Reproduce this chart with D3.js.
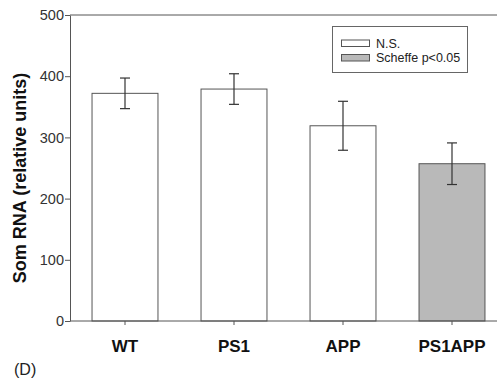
<!DOCTYPE html>
<html>
<head>
<meta charset="utf-8">
<script src="https://cdn.jsdelivr.net/npm/d3@7"></script>
<style>
  body { margin: 0; background: #fff; }
  svg { display: block; font-family: "Liberation Sans", Arial, sans-serif; }
</style>
</head>
<body>
<div id="graph"></div>
<script>
// values
let categories = ['WT', 'PS1', 'APP', 'PS1APP'];
let means = [372, 379, 319, 257];
let errors = [25, 25, 40, 34];
let significant = [false, false, false, true];
let yTicks = [0, 100, 200, 300, 400, 500];
let legendLabels = ['N.S.', 'Scheffe p<0.05'];

let width = 497;
let height = 385;
let fillNS = '#ffffff';
let fillSig = '#b9b9b9';
let lineCol = '#555';
let fontFam = '"Liberation Sans", Arial, sans-serif';

let data = categories.map((c, i) => {
    return {name: c, mean: means[i], err: errors[i], sig: significant[i]};
});

let x = d3.scaleBand()
    .domain(categories)
    .range([70.5, 506.5])
    .paddingInner(0.395)
    .paddingOuter(0.1975);
let y = d3.scaleLinear().domain([0, 500]).range([321, 15]);

let svg = d3.select('#graph')
    .append('svg')
        .attr('width', width)
        .attr('height', height);

// bars
svg.selectAll('.bar')
        .data(data)
    .enter().append('rect')
        .attr('class', 'bar')
        .attr('x', (d) => x(d.name))
        .attr('width', x.bandwidth())
        .attr('y', (d) => y(d.mean))
        .attr('height', (d) => y(0) - y(d.mean))
        .attr('fill', (d) => d.sig ? fillSig : fillNS)
        .attr('stroke', lineCol)
        .attr('stroke-width', 1);

// error bars
let eb = svg.selectAll('.err')
        .data(data)
    .enter().append('g')
        .attr('class', 'err')
        .attr('stroke', '#333')
        .attr('stroke-width', 1.2);
eb.append('line')
    .attr('x1', (d) => x(d.name) + x.bandwidth() / 2)
    .attr('x2', (d) => x(d.name) + x.bandwidth() / 2)
    .attr('y1', (d) => y(d.mean + d.err))
    .attr('y2', (d) => y(d.mean - d.err));
eb.selectAll('.cap')
        .data((d) => [d.mean + d.err, d.mean - d.err].map((v) => ({v: v, name: d.name})))
    .enter().append('line')
        .attr('x1', (d) => x(d.name) + x.bandwidth() / 2 - 5)
        .attr('x2', (d) => x(d.name) + x.bandwidth() / 2 + 5)
        .attr('y1', (d) => y(d.v))
        .attr('y2', (d) => y(d.v));

// top frame line
svg.append('line')
    .attr('x1', 70).attr('x2', width)
    .attr('y1', y(500)).attr('y2', y(500))
    .attr('stroke', lineCol);

// x axis
let xAxis = svg.append('g')
    .attr('transform', 'translate(0,' + y(0) + ')')
    .call(d3.axisBottom(x).tickSize(4).tickPadding(15));
xAxis.select('.domain').attr('d', 'M70,0H' + width).attr('stroke', lineCol);
xAxis.selectAll('.tick line').attr('stroke', lineCol);
xAxis.selectAll('text')
    .attr('font-size', 17)
    .attr('font-weight', 'bold')
    .attr('font-family', fontFam)
    .attr('fill', '#111');

// y axis
let yAxis = svg.append('g')
    .attr('transform', 'translate(70,0)')
    .call(d3.axisLeft(y).tickValues(yTicks).tickSize(5).tickPadding(1).tickSizeOuter(0));
yAxis.select('.domain').attr('stroke', lineCol);
yAxis.selectAll('.tick line').attr('stroke', lineCol);
yAxis.selectAll('text')
    .attr('font-size', 14.5)
    .attr('font-family', fontFam)
    .attr('fill', '#333');

// y title
svg.append('text')
    .attr('transform', 'translate(26,178) rotate(-90)')
    .attr('text-anchor', 'middle')
    .attr('font-size', 18)
    .attr('font-weight', 'bold')
    .attr('font-family', fontFam)
    .attr('fill', '#111')
    .text('Som RNA (relative units)');

// legend
let legend = svg.append('g');
legend.append('rect')
    .attr('x', 332.5).attr('y', 26.5)
    .attr('width', 135).attr('height', 46)
    .attr('fill', '#fff')
    .attr('stroke', '#666');
legendLabels.forEach((lab, i) => {
    let ly = 40 + i * 14.5;
    legend.append('rect')
        .attr('x', 341.5).attr('y', ly)
        .attr('width', 28).attr('height', 6.5)
        .attr('fill', i === 0 ? fillNS : fillSig)
        .attr('stroke', lineCol);
    legend.append('text')
        .attr('x', 376).attr('y', ly + 7.5)
        .attr('font-size', 12.5)
        .attr('font-family', fontFam)
        .attr('fill', '#222')
        .text(lab);
});

// panel label
svg.append('text')
    .attr('x', 14).attr('y', 375)
    .attr('font-size', 16)
    .attr('font-family', fontFam)
    .attr('fill', '#222')
    .text('(D)');
</script>
</body>
</html>
